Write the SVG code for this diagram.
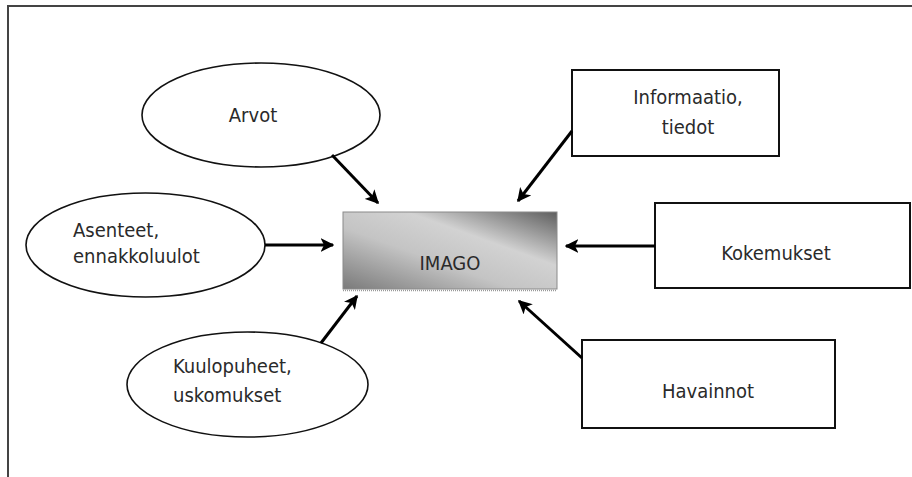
<svg xmlns="http://www.w3.org/2000/svg" width="912" height="477" viewBox="0 0 912 477">
<style>
.shape{fill:#fff;stroke:#111;stroke-width:1.6}
.box{fill:#fff;stroke:#111;stroke-width:2}
.t{font-family:"DejaVu Sans Condensed","DejaVu Sans",sans-serif;font-size:20px;fill:#2a2a2a}
.c{text-anchor:middle}
.conn line{stroke:#000;stroke-width:3;marker-end:url(#ah)}
</style>
<defs>
<marker id="ah" viewBox="0 0 10 10" refX="9" refY="5" markerWidth="4.6" markerHeight="4.6" orient="auto" markerUnits="strokeWidth">
<path d="M0,0 L10,5 L0,10 L2.5,5 Z" fill="#000"/>
</marker>
<linearGradient id="g" x1="1" y1="0" x2="0" y2="1">
<stop offset="0" stop-color="#5e5e5e"/>
<stop offset="0.35" stop-color="#d2d2d2"/>
<stop offset="0.6" stop-color="#c4c4c4"/>
<stop offset="1" stop-color="#7a7a7a"/>
</linearGradient>
</defs>
<rect width="912" height="477" fill="#fff"/>
<path d="M8,477 V6 H912" fill="none" stroke="#444" stroke-width="2"/>
<g id="imago">
<rect x="343" y="212" width="214" height="77" fill="url(#g)" stroke="#8a8a8a" stroke-width="1"/>
<line x1="343" y1="290.5" x2="557" y2="290.5" stroke="#999" stroke-width="1.5" stroke-dasharray="1,1"/>
<text class="t c" x="450" y="270">IMAGO</text>
</g>
<g id="arvot">
<ellipse class="shape" cx="261" cy="115" rx="119" ry="52"/>
<text class="t c" x="253" y="122">Arvot</text>
</g>
<g id="asenteet">
<ellipse class="shape" cx="145.5" cy="245" rx="119.5" ry="52"/>
<text class="t" x="73" y="237">Asenteet,</text>
<text class="t" x="73" y="263">ennakkoluulot</text>
</g>
<g id="kuulopuheet">
<ellipse class="shape" cx="247.5" cy="384.5" rx="120.5" ry="52.5"/>
<text class="t" x="173" y="373">Kuulopuheet,</text>
<text class="t" x="173" y="402">uskomukset</text>
</g>
<g id="informaatio">
<rect class="box" x="572" y="70" width="207" height="86"/>
<text class="t c" x="688" y="104">Informaatio,</text>
<text class="t c" x="688" y="134">tiedot</text>
</g>
<g id="kokemukset">
<rect class="box" x="655" y="203" width="255" height="85"/>
<text class="t c" x="776" y="260">Kokemukset</text>
</g>
<g id="havainnot">
<rect class="box" x="582" y="340" width="253" height="88"/>
<text class="t c" x="708" y="398">Havainnot</text>
</g>
<g class="conn" id="connectors">
<line x1="332" y1="155" x2="378" y2="203"/>
<line x1="265" y1="245" x2="333" y2="245"/>
<line x1="321" y1="343" x2="357" y2="296"/>
<line x1="572" y1="131" x2="518" y2="201"/>
<line x1="655" y1="246" x2="566" y2="246"/>
<line x1="582" y1="358" x2="519" y2="301"/>
</g>
</svg>
